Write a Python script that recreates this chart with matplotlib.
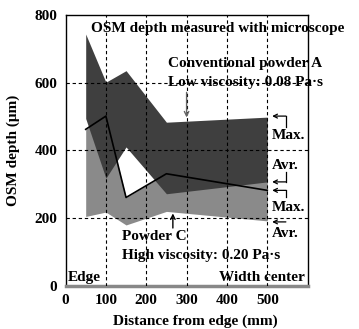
import matplotlib
matplotlib.use("Agg")
import matplotlib.pyplot as plt

plt.rcParams['font.family'] = ['Liberation Serif', 'DejaVu Serif']
plt.rcParams['font.weight'] = 'bold'

# distance from edge (mm)
dist = [50, 100, 150, 250, 500]
# powder A band (dark): max and average
a_max = [743, 601, 635, 483, 498]
a_avr = [494, 318, 410, 272, 307]
# powder C band (gray): upper edge, max line and average
c_top = [462, 501, 261, 331, 320]
c_max = [462, 501, 261, 331, 282]
c_avr = [205, 218, 180, 220, 192]

xticks = [0, 100, 200, 300, 400, 500]
yticks = [0, 200, 400, 600, 800]

fig = plt.figure(figsize=(3.59, 3.29), dpi=100)
ax = fig.add_axes([0.1825, 0.1307, 0.6745, 0.8246])

ax.fill_between(dist, c_avr, c_top, color='#8a8a8a', lw=0, zorder=1)
ax.fill_between(dist, a_avr, a_max, color='#3f3f3f', lw=0, zorder=2)
ax.plot(dist, c_max, color='black', lw=1.2, zorder=4)

# dashed grid drawn over the bands
for gx in xticks[1:]:
    ax.axvline(gx, color='black', lw=0.8, dashes=(3, 2.5), zorder=3)
for gy in yticks[1:4]:
    ax.axhline(gy, color='black', lw=0.8, dashes=(3, 2.5), zorder=3)

ax.set_xlim(0, 600)
ax.set_ylim(0, 800)
ax.set_xticks(xticks)
ax.set_yticks(yticks)
ax.tick_params(length=0, labelsize=11, pad=6)
for lab in ax.get_xticklabels() + ax.get_yticklabels():
    lab.set_fontweight('bold')

for s in ['left', 'top', 'right']:
    ax.spines[s].set_linewidth(1.0)
ax.spines['bottom'].set_color('#888888')
ax.spines['bottom'].set_linewidth(2.5)

ax.set_xlabel('Distance from edge (mm)', fontsize=11, fontweight='bold')
ax.xaxis.set_label_coords(0.535, -0.105)
ax.set_ylabel('OSM depth (\u03bcm)', fontsize=11, fontweight='bold')
ax.yaxis.set_label_coords(-0.19, 0.5)

fs = 11
ax.text(63, 759, 'OSM depth measured with microscope', fontsize=fs, va='center', zorder=6)
ax.text(253, 656, 'Conventional powder A', fontsize=fs, va='center', zorder=6)
ax.text(253, 600, 'Low viscosity: 0.08 Pa\u00b7s', fontsize=fs, va='center', zorder=6)
ax.text(140, 147, 'Powder C', fontsize=fs, va='center', zorder=6)
ax.text(140, 91, 'High viscosity: 0.20 Pa\u00b7s', fontsize=fs, va='center', zorder=6)
ax.text(6, 26, 'Edge', fontsize=fs, va='center', zorder=6)
ax.text(594, 26, 'Width center', fontsize=fs, va='center', ha='right', zorder=6)

ax.text(510, 444, 'Max.', fontsize=fs, va='center', zorder=6)
ax.text(512, 356, 'Avr.', fontsize=fs, va='center', zorder=6)
ax.text(510, 232, 'Max.', fontsize=fs, va='center', zorder=6)
ax.text(512, 156, 'Avr.', fontsize=fs, va='center', zorder=6)

# bracket arrows on the right
arr = dict(arrowstyle='->', color='black', lw=0.9, shrinkA=0, shrinkB=0,
           mutation_scale=7)
brackets = [(501, 468), (307, 336), (282, 263), (189, 189)]
for y0, y1 in brackets:
    ax.annotate('', xy=(512, y0), xytext=(546, y0), arrowprops=arr, zorder=6)
    if y1 != y0:
        ax.plot([546, 546], [y0, y1], color='black', lw=0.9, zorder=6)

# pointer arrows from the powder labels
ax.annotate('', xy=(300, 497), xytext=(300, 571),
            arrowprops=dict(arrowstyle='->', color='#666666', lw=1.0,
                            shrinkA=0, shrinkB=0, mutation_scale=8), zorder=6)
ax.annotate('', xy=(266, 214), xytext=(266, 171),
            arrowprops=dict(arrowstyle='->', color='black', lw=1.0,
                            shrinkA=0, shrinkB=0, mutation_scale=8), zorder=6)

fig.savefig('out.png', dpi=100)
